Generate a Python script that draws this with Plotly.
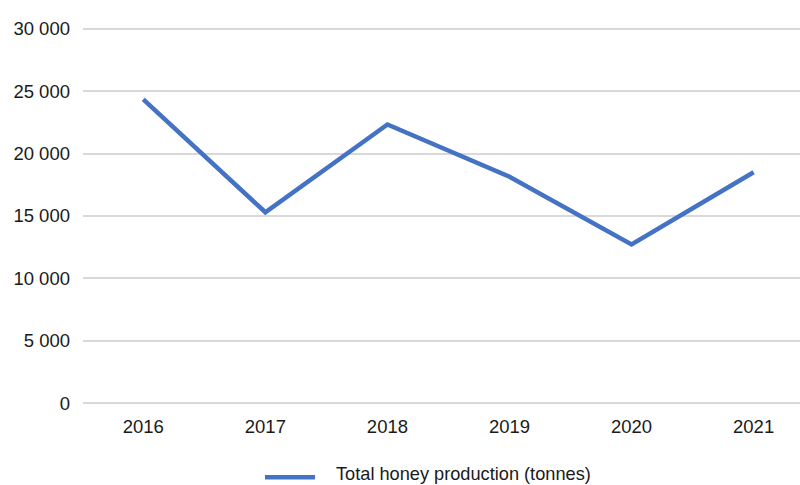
import plotly.graph_objects as go

# Annual honey production
years = [2016, 2017, 2018, 2019, 2020, 2021]
production = [24350, 15300, 22330, 18150, 12720, 18500]
series_name = "Total honey production (tonnes)"
y_ticks = [0, 5000, 10000, 15000, 20000, 25000, 30000]

LINE_BLUE = "#4472C4"
GRID = "#d9d9d9"
TEXT = "#1a1a1a"
FONT = "Liberation Sans, Arial, sans-serif"

fig = go.Figure()
fig.add_trace(go.Scatter(
    x=years,
    y=production,
    mode="lines",
    name=series_name,
    line=dict(color=LINE_BLUE, width=4.5),
    showlegend=False,
))

# Legend key drawn below the plot: a line sample and its label
fig.add_shape(
    type="line", xref="paper", yref="paper",
    x0=0.2538, x1=0.3236, y0=-0.184, y1=-0.184,
    line=dict(color=LINE_BLUE, width=4.5),
)
fig.add_annotation(
    xref="paper", yref="paper", x=0.3501, y=-0.176,
    xanchor="left", yanchor="middle", showarrow=False,
    text=series_name,
    font=dict(family=FONT, size=18.2, color=TEXT),
)

fig.update_layout(
    width=800,
    height=485,
    margin=dict(l=83, r=0, t=25, b=78, autoexpand=False),
    paper_bgcolor="white",
    plot_bgcolor="white",
    font=dict(family=FONT, size=18.5, color=TEXT),
    separators=". ",
)

fig.update_xaxes(
    range=[2015.506, 2021.38],
    tickmode="array",
    tickvals=years,
    ticktext=[str(y) for y in years],
    showgrid=False,
    zeroline=False,
    showline=False,
    ticks="",
    ticklabelstandoff=6,
)

fig.update_yaxes(
    range=[-300, 30300],
    tickmode="array",
    tickvals=y_ticks,
    tickformat=",d",
    showgrid=True,
    gridcolor=GRID,
    gridwidth=1.6,
    zeroline=False,
    showline=False,
    ticks="",
    ticklabelstandoff=12,
)

fig.write_html("out.html")
